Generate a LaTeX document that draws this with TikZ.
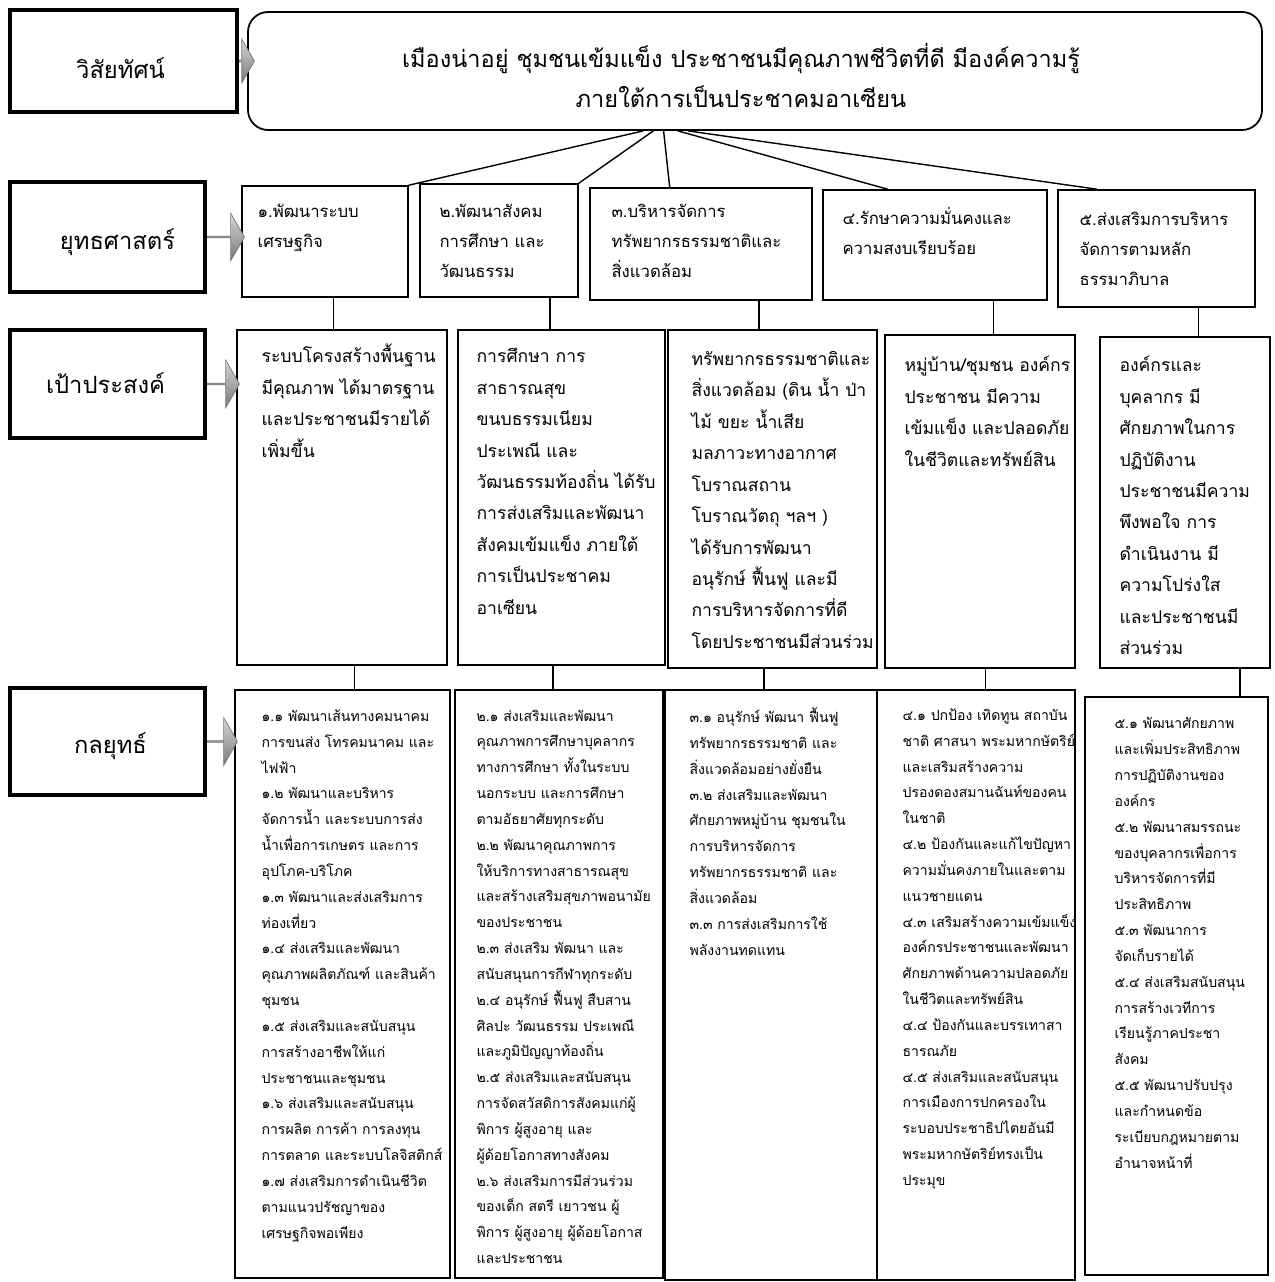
\documentclass[tikz,border=0pt]{standalone}
\usepackage{fontspec}
\newfontfamily\thaifont[Script=Thai]{Loma}
\definecolor{arrgray}{RGB}{120,120,120}
\definecolor{arrlight}{RGB}{215,215,215}
\usetikzlibrary{positioning,calc,fit,shapes.arrows}

\begin{document}
\begin{tikzpicture}[x=0.2mm,y=-0.2mm,font=\thaifont,
  labelbox/.style={draw,line width=2.4pt,inner sep=0pt},
  labeltext/.style={inner sep=0pt,font=\thaifont\fontsize{13.5}{15}\selectfont},
  visbox/.style={draw,line width=1pt,rounded corners=4mm,inner sep=0pt},
  plainbox/.style={draw,line width=0.9pt,inner sep=0pt},
  bigarr/.style={single arrow,draw=arrgray,top color=arrlight,bottom color=arrgray,
    single arrow tip angle=120,single arrow head extend=2mm,
    minimum width=9.6mm,minimum height=7mm,inner sep=0pt,anchor=west},
  vistext/.style={anchor=north,yshift=14.5pt,align=center,inner sep=0pt,
    execute at begin node={\rule{0pt}{14.5pt}},
    font=\thaifont\fontsize{13.4}{22.8}\selectfont},
  stext/.style={anchor=north west,yshift=10.5pt,align=left,inner sep=0pt,
    execute at begin node={\rule{0pt}{10.5pt}},
    font=\thaifont\fontsize{9.5}{17}\selectfont},
  gtext/.style={anchor=north west,yshift=11pt,align=left,inner sep=0pt,
    execute at begin node={\rule{0pt}{11pt}},
    font=\thaifont\fontsize{10}{17.9}\selectfont},
  ttext/.style={anchor=north west,yshift=9pt,align=left,inner sep=0pt,
    execute at begin node={\rule{0pt}{9pt}},
    font=\thaifont\fontsize{8}{14.7}\selectfont},
  link/.style={line width=0.8pt}
]
\useasboundingbox (0,0) rectangle (1274,1282);

% Row labels
\node[labelbox,fit={(10,10) (237,112)}] (lvis) {};
\node[labelbox,fit={(10,182) (205,292)}] (lstr) {};
\node[labelbox,fit={(10,330) (205,438)}] (lgoal) {};
\node[labelbox,fit={(10,688) (205,795)}] (ltac) {};
\node[labeltext] (lvistxt) at ([shift={(-3,7)}]lvis.center) {วิสัยทัศน์};
\node[labeltext] (lstrtxt) at ([shift={(10,5)}]lstr.center) {ยุทธศาสตร์};
\node[labeltext] (lgoaltxt) at ([shift={(-2,-1)}]lgoal.center) {เป้าประสงค์};
\node[labeltext] (ltactxt) at ([shift={(3,5)}]ltac.center) {กลยุทธ์};

% Vision
\node[visbox,fit={(248,12) (1262,130)}] (vis) {};
\node[vistext] (vistxt) at (741,68)
  {เมืองน่าอยู่ ชุมชนเข้มแข็ง ประชาชนมีคุณภาพชีวิตที่ดี มีองค์ความรู้\\
   ภายใต้การเป็นประชาคมอาเซียน};

% Strategies
\node[plainbox,fit={(242,186) (408,297)}] (s1) {};
\node[plainbox,fit={(420,184) (578,297)}] (s2) {};
\node[plainbox,fit={(590,188) (812,300)}] (s3) {};
\node[plainbox,fit={(823,190) (1047,300)}] (s4) {};
\node[plainbox,fit={(1058,190) (1255,307)}] (s5) {};
\node[stext] (s1txt) at ([shift={(16,37)}]s1.north west) {๑.พัฒนาระบบ\\เศรษฐกิจ};
\node[stext] (s2txt) at ([shift={(20,39)}]s2.north west) {๒.พัฒนาสังคม\\การศึกษา และ\\วัฒนธรรม};
\node[stext] (s3txt) at ([shift={(22,35)}]s3.north west) {๓.บริหารจัดการ\\ทรัพยากรธรรมชาติและ\\สิ่งแวดล้อม};
\node[stext] (s4txt) at ([shift={(20,36)}]s4.north west) {๔.รักษาความมั่นคงและ\\ความสงบเรียบร้อย};
\node[stext] (s5txt) at ([shift={(22,41)}]s5.north west) {๕.ส่งเสริมการบริหาร\\จัดการตามหลัก\\ธรรมาภิบาล};

% Goals
\node[plainbox,fit={(237,330) (447,665)}] (g1) {};
\node[plainbox,fit={(458,330) (665,665)}] (g2) {};
\node[plainbox,fit={(668,330) (877,668)}] (g3) {};
\node[plainbox,fit={(885,335) (1075,668)}] (g4) {};
\node[plainbox,fit={(1100,337) (1270,668)}] (g5) {};
\node[gtext] (g1txt) at ([shift={(25,34)}]g1.north west)
  {ระบบโครงสร้างพื้นฐาน\\มีคุณภาพ ได้มาตรฐาน\\และประชาชนมีรายได้\\เพิ่มขึ้น};
\node[gtext] (g2txt) at ([shift={(19,38)}]g2.north west)
  {การศึกษา การ\\สาธารณสุข\\ขนบธรรมเนียม\\ประเพณี และ\\วัฒนธรรมท้องถิ่น ได้รับ\\
   การส่งเสริมและพัฒนา\\สังคมเข้มแข็ง ภายใต้\\การเป็นประชาคม\\อาเซียน};
\node[gtext] (g3txt) at ([shift={(24,41)}]g3.north west)
  {ทรัพยากรธรรมชาติและ\\สิ่งแวดล้อม (ดิน น้ำ ป่า\\ไม้ ขยะ น้ำเสีย\\มลภาวะทางอากาศ\\โบราณสถาน\\
   โบราณวัตถุ ฯลฯ )\\ได้รับการพัฒนา\\อนุรักษ์ ฟื้นฟู และมี\\การบริหารจัดการที่ดี\\โดยประชาชนมีส่วนร่วม};
\node[gtext] (g4txt) at ([shift={(20,41)}]g4.north west)
  {หมู่บ้าน/ชุมชน องค์กร\\ประชาชน มีความ\\เข้มแข็ง และปลอดภัย\\ในชีวิตและทรัพย์สิน};
\node[gtext] (g5txt) at ([shift={(20,39)}]g5.north west)
  {องค์กรและ\\บุคลากร มี\\ศักยภาพในการ\\ปฏิบัติงาน\\ประชาชนมีความ\\พึงพอใจ การ\\
   ดำเนินงาน มี\\ความโปร่งใส\\และประชาชนมี\\ส่วนร่วม};

% Tactics
\node[plainbox,fit={(235,690) (450,1278)}] (t1) {};
\node[plainbox,fit={(455,690) (663,1278)}] (t2) {};
\node[plainbox,fit={(665,690) (877,1280)}] (t3) {};
\node[plainbox,fit={(877,690) (1075,1280)}] (t4) {};
\node[plainbox,fit={(1085,697) (1268,1275)}] (t5) {};
\node[ttext] (t1txt) at ([shift={(27,36)}]t1.north west)
  {๑.๑ พัฒนาเส้นทางคมนาคม\\การขนส่ง โทรคมนาคม และ\\ไฟฟ้า\\
   ๑.๒ พัฒนาและบริหาร\\จัดการน้ำ และระบบการส่ง\\น้ำเพื่อการเกษตร และการ\\อุปโภค-บริโภค\\
   ๑.๓ พัฒนาและส่งเสริมการ\\ท่องเที่ยว\\
   ๑.๔ ส่งเสริมและพัฒนา\\คุณภาพผลิตภัณฑ์ และสินค้า\\ชุมชน\\
   ๑.๕ ส่งเสริมและสนับสนุน\\การสร้างอาชีพให้แก่\\ประชาชนและชุมชน\\
   ๑.๖ ส่งเสริมและสนับสนุน\\การผลิต การค้า การลงทุน\\การตลาด และระบบโลจิสติกส์\\
   ๑.๗ ส่งเสริมการดำเนินชีวิต\\ตามแนวปรัชญาของ\\เศรษฐกิจพอเพียง};
\node[ttext] (t2txt) at ([shift={(22,36)}]t2.north west)
  {๒.๑ ส่งเสริมและพัฒนา\\คุณภาพการศึกษาบุคลากร\\ทางการศึกษา ทั้งในระบบ\\นอกระบบ และการศึกษา\\ตามอัธยาศัยทุกระดับ\\
   ๒.๒ พัฒนาคุณภาพการ\\ให้บริการทางสาธารณสุข\\และสร้างเสริมสุขภาพอนามัย\\ของประชาชน\\
   ๒.๓ ส่งเสริม พัฒนา และ\\สนับสนุนการกีฬาทุกระดับ\\
   ๒.๔ อนุรักษ์ ฟื้นฟู สืบสาน\\ศิลปะ วัฒนธรรม ประเพณี\\และภูมิปัญญาท้องถิ่น\\
   ๒.๕ ส่งเสริมและสนับสนุน\\การจัดสวัสดิการสังคมแก่ผู้\\พิการ ผู้สูงอายุ และ\\ผู้ด้อยโอกาสทางสังคม\\
   ๒.๖ ส่งเสริมการมีส่วนร่วม\\ของเด็ก สตรี เยาวชน ผู้\\พิการ ผู้สูงอายุ ผู้ด้อยโอกาส\\และประชาชน};
\node[ttext] (t3txt) at ([shift={(25,34)}]t3.north west)
  {๓.๑ อนุรักษ์ พัฒนา ฟื้นฟู\\ทรัพยากรธรรมชาติ และ\\สิ่งแวดล้อมอย่างยั่งยืน\\
   ๓.๒ ส่งเสริมและพัฒนา\\ศักยภาพหมู่บ้าน ชุมชนใน\\การบริหารจัดการ\\ทรัพยากรธรรมชาติ และ\\สิ่งแวดล้อม\\
   ๓.๓ การส่งเสริมการใช้\\พลังงานทดแทน};
\node[ttext] (t4txt) at ([shift={(26,35)}]t4.north west)
  {๔.๑ ปกป้อง เทิดทูน สถาบัน\\ชาติ ศาสนา พระมหากษัตริย์\\และเสริมสร้างความ\\ปรองดองสมานฉันท์ของคน\\ในชาติ\\
   ๔.๒ ป้องกันและแก้ไขปัญหา\\ความมั่นคงภายในและตาม\\แนวชายแดน\\
   ๔.๓ เสริมสร้างความเข้มแข็ง\\องค์กรประชาชนและพัฒนา\\ศักยภาพด้านความปลอดภัย\\ในชีวิตและทรัพย์สิน\\
   ๔.๔ ป้องกันและบรรเทาสา\\ธารณภัย\\
   ๔.๕ ส่งเสริมและสนับสนุน\\การเมืองการปกครองใน\\ระบอบประชาธิปไตยอันมี\\พระมหากษัตริย์ทรงเป็น\\ประมุข};
\node[ttext] (t5txt) at ([shift={(30,37)}]t5.north west)
  {๕.๑ พัฒนาศักยภาพ\\และเพิ่มประสิทธิภาพ\\การปฏิบัติงานของ\\องค์กร\\
   ๕.๒ พัฒนาสมรรถนะ\\ของบุคลากรเพื่อการ\\บริหารจัดการที่มี\\ประสิทธิภาพ\\
   ๕.๓ พัฒนาการ\\จัดเก็บรายได้\\
   ๕.๔ ส่งเสริมสนับสนุน\\การสร้างเวทีการ\\เรียนรู้ภาคประชา\\สังคม\\
   ๕.๕ พัฒนาปรับปรุง\\และกำหนดข้อ\\ระเบียบกฎหมายตาม\\อำนาจหน้าที่};

% Gray arrows
\node[bigarr,minimum height=3mm,minimum width=8.8mm,single arrow head extend=1.6mm] (avis) at (lvis.east) {};
\node[bigarr,minimum height=7.4mm] (astr) at (lstr.east) {};
\node[bigarr,minimum height=6.4mm] (agoal) at (lgoal.east) {};
\node[bigarr,minimum height=6mm] (atac) at (ltac.east) {};

% Vision to strategies
\draw[link] ($(vis.south west)!0.39!(vis.south east)$) -- (s1.north east);
\draw[link] ($(vis.south west)!0.40!(vis.south east)$) -- (s2.north east);
\draw[link] ($(vis.south west)!0.41!(vis.south east)$) -- ($(s3.north west)!0.36!(s3.north east)$);
\draw[link] ($(vis.south west)!0.424!(vis.south east)$) -- ($(s4.north west)!0.29!(s4.north east)$);
\draw[link] ($(vis.south west)!0.434!(vis.south east)$) -- ($(s5.north west)!0.2!(s5.north east)$);

% Strategies to goals
\coordinate (c1) at ($(s1.south west)!0.55!(s1.south east)$);
\coordinate (c2) at ($(s2.south west)!0.82!(s2.south east)$);
\coordinate (c3) at ($(s3.south west)!0.76!(s3.south east)$);
\coordinate (c4) at ($(s4.south west)!0.76!(s4.south east)$);
\coordinate (c5) at ($(s5.south west)!0.71!(s5.south east)$);
\foreach \i in {1,...,5}
  \draw[link] (c\i) -- (c\i |- g\i.north);

% Goals to tactics
\coordinate (d1) at ($(g1.south west)!0.56!(g1.south east)$);
\coordinate (d2) at ($(g2.south west)!0.46!(g2.south east)$);
\coordinate (d3) at ($(g3.south west)!0.46!(g3.south east)$);
\coordinate (d4) at ($(g4.south west)!0.53!(g4.south east)$);
\coordinate (d5) at ($(g5.south west)!0.82!(g5.south east)$);
\foreach \i in {1,...,5}
  \draw[link] (d\i) -- (d\i |- t\i.north);
\end{tikzpicture}
\end{document}
